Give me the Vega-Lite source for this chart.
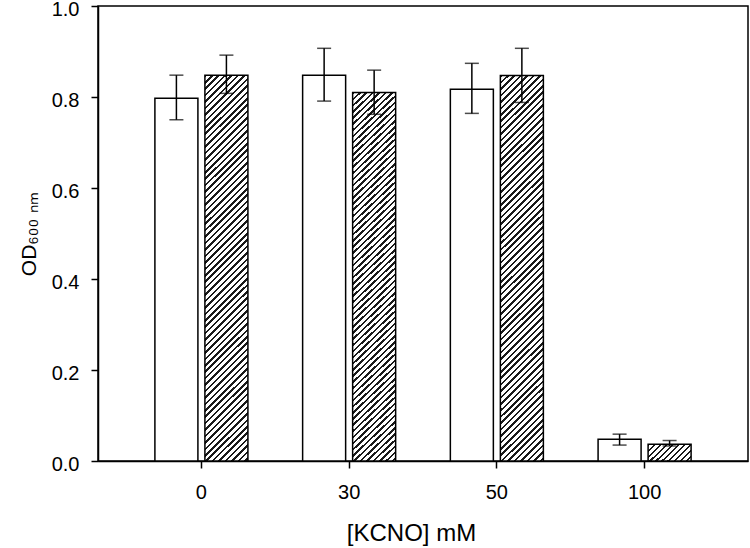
{
  "$schema": "https://vega.github.io/schema/vega-lite/v6.json",
  "width": 650,
  "height": 455,
  "autosize": {"type": "none"},
  "padding": {"left": 98, "top": 6, "right": 2, "bottom": 87},
  "background": "white",
  "config": {
    "font": "Liberation Sans",
    "view": {"stroke": "black", "strokeWidth": 1.5},
    "axis": {"domainColor": "black", "tickColor": "black", "labelColor": "black", "titleColor": "black", "domainWidth": 1.5, "tickWidth": 1.5, "grid": false, "titleFontWeight": "normal"}
  },
  "data": {
    "values": [
      {"conc": "0", "grp": "A", "od": 0.797, "lo": 0.750, "hi": 0.848},
      {"conc": "0", "grp": "B", "od": 0.848, "lo": 0.808, "hi": 0.892},
      {"conc": "30", "grp": "A", "od": 0.848, "lo": 0.791, "hi": 0.907},
      {"conc": "30", "grp": "B", "od": 0.810, "lo": 0.762, "hi": 0.859},
      {"conc": "50", "grp": "A", "od": 0.817, "lo": 0.764, "hi": 0.874},
      {"conc": "50", "grp": "B", "od": 0.847, "lo": 0.788, "hi": 0.907},
      {"conc": "100", "grp": "A", "od": 0.048, "lo": 0.035, "hi": 0.059},
      {"conc": "100", "grp": "B", "od": 0.037, "lo": 0.033, "hi": 0.045}
    ]
  },
  "encoding": {
    "x": {
      "field": "conc", "type": "nominal", "sort": ["0", "30", "50", "100"],
      "scale": {"paddingInner": 0, "paddingOuter": 0.2},
      "axis": {"title": "[KCNO] mM", "labelAngle": 0, "labelFontSize": 20, "titleFontSize": 24, "tickSize": 7, "labelPadding": 14, "titlePadding": 19, "titleX": 313}
    },
    "xOffset": {"field": "grp", "type": "nominal", "scale": {"domain": ["A", "B"], "paddingInner": 0.14, "paddingOuter": 0.547}}
  },
  "layer": [
    {
      "transform": [{"filter": "datum.grp === 'A'"}],
      "mark": {"type": "bar", "fill": "white", "stroke": "black", "strokeWidth": 1.5},
      "encoding": {
        "y": {"field": "od", "type": "quantitative", "scale": {"domain": [0, 1]},
          "axis": {"title": "OD₆₀₀ ₙₘ", "values": [0, 0.2, 0.4, 0.6, 0.8, 1.0], "format": ".1f", "labelFontSize": 20, "labelOffset": 3, "titleFontSize": 21, "tickSize": 7, "labelPadding": 12, "titlePadding": 12}}
      }
    },
    {
      "transform": [{"filter": "datum.grp === 'B' && datum.conc !== '100'"}],
      "mark": {"type": "bar", "stroke": "black", "strokeWidth": 1.5,
        "fill": {"gradient": "linear", "x1": 0, "y1": 0, "x2": 0.12195, "y2": 1.0976, "stops": [
{"offset":0,"color":"#1a1a1a"},{"offset":0.006,"color":"#1a1a1a"},{"offset":0.006,"color":"#fff"},{"offset":0.015,"color":"#fff"},
{"offset":0.015,"color":"#1a1a1a"},{"offset":0.021,"color":"#1a1a1a"},{"offset":0.021,"color":"#fff"},{"offset":0.03,"color":"#fff"},
{"offset":0.03,"color":"#1a1a1a"},{"offset":0.036,"color":"#1a1a1a"},{"offset":0.036,"color":"#fff"},{"offset":0.045,"color":"#fff"},
{"offset":0.045,"color":"#1a1a1a"},{"offset":0.051,"color":"#1a1a1a"},{"offset":0.051,"color":"#fff"},{"offset":0.06,"color":"#fff"},
{"offset":0.06,"color":"#1a1a1a"},{"offset":0.066,"color":"#1a1a1a"},{"offset":0.066,"color":"#fff"},{"offset":0.075,"color":"#fff"},
{"offset":0.075,"color":"#1a1a1a"},{"offset":0.081,"color":"#1a1a1a"},{"offset":0.081,"color":"#fff"},{"offset":0.09,"color":"#fff"},
{"offset":0.09,"color":"#1a1a1a"},{"offset":0.096,"color":"#1a1a1a"},{"offset":0.096,"color":"#fff"},{"offset":0.105,"color":"#fff"},
{"offset":0.105,"color":"#1a1a1a"},{"offset":0.111,"color":"#1a1a1a"},{"offset":0.111,"color":"#fff"},{"offset":0.12,"color":"#fff"},
{"offset":0.12,"color":"#1a1a1a"},{"offset":0.126,"color":"#1a1a1a"},{"offset":0.126,"color":"#fff"},{"offset":0.135,"color":"#fff"},
{"offset":0.135,"color":"#1a1a1a"},{"offset":0.141,"color":"#1a1a1a"},{"offset":0.141,"color":"#fff"},{"offset":0.15,"color":"#fff"},
{"offset":0.15,"color":"#1a1a1a"},{"offset":0.156,"color":"#1a1a1a"},{"offset":0.156,"color":"#fff"},{"offset":0.165,"color":"#fff"},
{"offset":0.165,"color":"#1a1a1a"},{"offset":0.171,"color":"#1a1a1a"},{"offset":0.171,"color":"#fff"},{"offset":0.18,"color":"#fff"},
{"offset":0.18,"color":"#1a1a1a"},{"offset":0.186,"color":"#1a1a1a"},{"offset":0.186,"color":"#fff"},{"offset":0.195,"color":"#fff"},
{"offset":0.195,"color":"#1a1a1a"},{"offset":0.201,"color":"#1a1a1a"},{"offset":0.201,"color":"#fff"},{"offset":0.21,"color":"#fff"},
{"offset":0.21,"color":"#1a1a1a"},{"offset":0.216,"color":"#1a1a1a"},{"offset":0.216,"color":"#fff"},{"offset":0.225,"color":"#fff"},
{"offset":0.225,"color":"#1a1a1a"},{"offset":0.231,"color":"#1a1a1a"},{"offset":0.231,"color":"#fff"},{"offset":0.24,"color":"#fff"},
{"offset":0.24,"color":"#1a1a1a"},{"offset":0.246,"color":"#1a1a1a"},{"offset":0.246,"color":"#fff"},{"offset":0.255,"color":"#fff"},
{"offset":0.255,"color":"#1a1a1a"},{"offset":0.261,"color":"#1a1a1a"},{"offset":0.261,"color":"#fff"},{"offset":0.27,"color":"#fff"},
{"offset":0.27,"color":"#1a1a1a"},{"offset":0.276,"color":"#1a1a1a"},{"offset":0.276,"color":"#fff"},{"offset":0.285,"color":"#fff"},
{"offset":0.285,"color":"#1a1a1a"},{"offset":0.291,"color":"#1a1a1a"},{"offset":0.291,"color":"#fff"},{"offset":0.3,"color":"#fff"},
{"offset":0.3,"color":"#1a1a1a"},{"offset":0.306,"color":"#1a1a1a"},{"offset":0.306,"color":"#fff"},{"offset":0.315,"color":"#fff"},
{"offset":0.315,"color":"#1a1a1a"},{"offset":0.321,"color":"#1a1a1a"},{"offset":0.321,"color":"#fff"},{"offset":0.33,"color":"#fff"},
{"offset":0.33,"color":"#1a1a1a"},{"offset":0.336,"color":"#1a1a1a"},{"offset":0.336,"color":"#fff"},{"offset":0.345,"color":"#fff"},
{"offset":0.345,"color":"#1a1a1a"},{"offset":0.351,"color":"#1a1a1a"},{"offset":0.351,"color":"#fff"},{"offset":0.36,"color":"#fff"},
{"offset":0.36,"color":"#1a1a1a"},{"offset":0.366,"color":"#1a1a1a"},{"offset":0.366,"color":"#fff"},{"offset":0.375,"color":"#fff"},
{"offset":0.375,"color":"#1a1a1a"},{"offset":0.381,"color":"#1a1a1a"},{"offset":0.381,"color":"#fff"},{"offset":0.39,"color":"#fff"},
{"offset":0.39,"color":"#1a1a1a"},{"offset":0.396,"color":"#1a1a1a"},{"offset":0.396,"color":"#fff"},{"offset":0.405,"color":"#fff"},
{"offset":0.405,"color":"#1a1a1a"},{"offset":0.411,"color":"#1a1a1a"},{"offset":0.411,"color":"#fff"},{"offset":0.42,"color":"#fff"},
{"offset":0.42,"color":"#1a1a1a"},{"offset":0.426,"color":"#1a1a1a"},{"offset":0.426,"color":"#fff"},{"offset":0.435,"color":"#fff"},
{"offset":0.435,"color":"#1a1a1a"},{"offset":0.441,"color":"#1a1a1a"},{"offset":0.441,"color":"#fff"},{"offset":0.45,"color":"#fff"},
{"offset":0.45,"color":"#1a1a1a"},{"offset":0.456,"color":"#1a1a1a"},{"offset":0.456,"color":"#fff"},{"offset":0.465,"color":"#fff"},
{"offset":0.465,"color":"#1a1a1a"},{"offset":0.471,"color":"#1a1a1a"},{"offset":0.471,"color":"#fff"},{"offset":0.48,"color":"#fff"},
{"offset":0.48,"color":"#1a1a1a"},{"offset":0.486,"color":"#1a1a1a"},{"offset":0.486,"color":"#fff"},{"offset":0.495,"color":"#fff"},
{"offset":0.495,"color":"#1a1a1a"},{"offset":0.501,"color":"#1a1a1a"},{"offset":0.501,"color":"#fff"},{"offset":0.51,"color":"#fff"},
{"offset":0.51,"color":"#1a1a1a"},{"offset":0.516,"color":"#1a1a1a"},{"offset":0.516,"color":"#fff"},{"offset":0.525,"color":"#fff"},
{"offset":0.525,"color":"#1a1a1a"},{"offset":0.531,"color":"#1a1a1a"},{"offset":0.531,"color":"#fff"},{"offset":0.54,"color":"#fff"},
{"offset":0.54,"color":"#1a1a1a"},{"offset":0.546,"color":"#1a1a1a"},{"offset":0.546,"color":"#fff"},{"offset":0.555,"color":"#fff"},
{"offset":0.555,"color":"#1a1a1a"},{"offset":0.561,"color":"#1a1a1a"},{"offset":0.561,"color":"#fff"},{"offset":0.57,"color":"#fff"},
{"offset":0.57,"color":"#1a1a1a"},{"offset":0.576,"color":"#1a1a1a"},{"offset":0.576,"color":"#fff"},{"offset":0.585,"color":"#fff"},
{"offset":0.585,"color":"#1a1a1a"},{"offset":0.591,"color":"#1a1a1a"},{"offset":0.591,"color":"#fff"},{"offset":0.6,"color":"#fff"},
{"offset":0.6,"color":"#1a1a1a"},{"offset":0.606,"color":"#1a1a1a"},{"offset":0.606,"color":"#fff"},{"offset":0.615,"color":"#fff"},
{"offset":0.615,"color":"#1a1a1a"},{"offset":0.621,"color":"#1a1a1a"},{"offset":0.621,"color":"#fff"},{"offset":0.63,"color":"#fff"},
{"offset":0.63,"color":"#1a1a1a"},{"offset":0.636,"color":"#1a1a1a"},{"offset":0.636,"color":"#fff"},{"offset":0.645,"color":"#fff"},
{"offset":0.645,"color":"#1a1a1a"},{"offset":0.651,"color":"#1a1a1a"},{"offset":0.651,"color":"#fff"},{"offset":0.66,"color":"#fff"},
{"offset":0.66,"color":"#1a1a1a"},{"offset":0.666,"color":"#1a1a1a"},{"offset":0.666,"color":"#fff"},{"offset":0.675,"color":"#fff"},
{"offset":0.675,"color":"#1a1a1a"},{"offset":0.681,"color":"#1a1a1a"},{"offset":0.681,"color":"#fff"},{"offset":0.69,"color":"#fff"},
{"offset":0.69,"color":"#1a1a1a"},{"offset":0.696,"color":"#1a1a1a"},{"offset":0.696,"color":"#fff"},{"offset":0.705,"color":"#fff"},
{"offset":0.705,"color":"#1a1a1a"},{"offset":0.711,"color":"#1a1a1a"},{"offset":0.711,"color":"#fff"},{"offset":0.72,"color":"#fff"},
{"offset":0.72,"color":"#1a1a1a"},{"offset":0.726,"color":"#1a1a1a"},{"offset":0.726,"color":"#fff"},{"offset":0.735,"color":"#fff"},
{"offset":0.735,"color":"#1a1a1a"},{"offset":0.741,"color":"#1a1a1a"},{"offset":0.741,"color":"#fff"},{"offset":0.75,"color":"#fff"},
{"offset":0.75,"color":"#1a1a1a"},{"offset":0.756,"color":"#1a1a1a"},{"offset":0.756,"color":"#fff"},{"offset":0.765,"color":"#fff"},
{"offset":0.765,"color":"#1a1a1a"},{"offset":0.771,"color":"#1a1a1a"},{"offset":0.771,"color":"#fff"},{"offset":0.78,"color":"#fff"},
{"offset":0.78,"color":"#1a1a1a"},{"offset":0.786,"color":"#1a1a1a"},{"offset":0.786,"color":"#fff"},{"offset":0.795,"color":"#fff"},
{"offset":0.795,"color":"#1a1a1a"},{"offset":0.801,"color":"#1a1a1a"},{"offset":0.801,"color":"#fff"},{"offset":0.81,"color":"#fff"},
{"offset":0.81,"color":"#1a1a1a"},{"offset":0.816,"color":"#1a1a1a"},{"offset":0.816,"color":"#fff"},{"offset":0.825,"color":"#fff"},
{"offset":0.825,"color":"#1a1a1a"},{"offset":0.831,"color":"#1a1a1a"},{"offset":0.831,"color":"#fff"},{"offset":0.84,"color":"#fff"},
{"offset":0.84,"color":"#1a1a1a"},{"offset":0.846,"color":"#1a1a1a"},{"offset":0.846,"color":"#fff"},{"offset":0.855,"color":"#fff"},
{"offset":0.855,"color":"#1a1a1a"},{"offset":0.861,"color":"#1a1a1a"},{"offset":0.861,"color":"#fff"},{"offset":0.87,"color":"#fff"},
{"offset":0.87,"color":"#1a1a1a"},{"offset":0.876,"color":"#1a1a1a"},{"offset":0.876,"color":"#fff"},{"offset":0.885,"color":"#fff"},
{"offset":0.885,"color":"#1a1a1a"},{"offset":0.891,"color":"#1a1a1a"},{"offset":0.891,"color":"#fff"},{"offset":0.9,"color":"#fff"},
{"offset":0.9,"color":"#1a1a1a"},{"offset":0.906,"color":"#1a1a1a"},{"offset":0.906,"color":"#fff"},{"offset":0.915,"color":"#fff"},
{"offset":0.915,"color":"#1a1a1a"},{"offset":0.921,"color":"#1a1a1a"},{"offset":0.921,"color":"#fff"},{"offset":0.93,"color":"#fff"},
{"offset":0.93,"color":"#1a1a1a"},{"offset":0.936,"color":"#1a1a1a"},{"offset":0.936,"color":"#fff"},{"offset":0.945,"color":"#fff"},
{"offset":0.945,"color":"#1a1a1a"},{"offset":0.951,"color":"#1a1a1a"},{"offset":0.951,"color":"#fff"},{"offset":0.96,"color":"#fff"},
{"offset":0.96,"color":"#1a1a1a"},{"offset":0.966,"color":"#1a1a1a"},{"offset":0.966,"color":"#fff"},{"offset":0.975,"color":"#fff"},
{"offset":0.975,"color":"#1a1a1a"},{"offset":0.981,"color":"#1a1a1a"},{"offset":0.981,"color":"#fff"},{"offset":0.99,"color":"#fff"},
{"offset":0.99,"color":"#1a1a1a"},{"offset":0.996,"color":"#1a1a1a"},{"offset":0.996,"color":"#fff"},{"offset":1,"color":"#fff"}
        ]}
      },
      "encoding": {"y": {"field": "od", "type": "quantitative"}}
    },
    {
      "transform": [{"filter": "datum.grp === 'B' && datum.conc === '100'"}],
      "mark": {"type": "bar", "stroke": "black", "strokeWidth": 1.5,
        "fill": {"gradient": "linear", "x1": 0, "y1": 0, "x2": 1.2069, "y2": 0.4856, "stops": [
{"offset":0,"color":"#1a1a1a"},{"offset":0.04,"color":"#1a1a1a"},{"offset":0.04,"color":"#fff"},{"offset":0.1,"color":"#fff"},
{"offset":0.1,"color":"#1a1a1a"},{"offset":0.14,"color":"#1a1a1a"},{"offset":0.14,"color":"#fff"},{"offset":0.2,"color":"#fff"},
{"offset":0.2,"color":"#1a1a1a"},{"offset":0.24,"color":"#1a1a1a"},{"offset":0.24,"color":"#fff"},{"offset":0.3,"color":"#fff"},
{"offset":0.3,"color":"#1a1a1a"},{"offset":0.34,"color":"#1a1a1a"},{"offset":0.34,"color":"#fff"},{"offset":0.4,"color":"#fff"},
{"offset":0.4,"color":"#1a1a1a"},{"offset":0.44,"color":"#1a1a1a"},{"offset":0.44,"color":"#fff"},{"offset":0.5,"color":"#fff"},
{"offset":0.5,"color":"#1a1a1a"},{"offset":0.54,"color":"#1a1a1a"},{"offset":0.54,"color":"#fff"},{"offset":0.6,"color":"#fff"},
{"offset":0.6,"color":"#1a1a1a"},{"offset":0.64,"color":"#1a1a1a"},{"offset":0.64,"color":"#fff"},{"offset":0.7,"color":"#fff"},
{"offset":0.7,"color":"#1a1a1a"},{"offset":0.74,"color":"#1a1a1a"},{"offset":0.74,"color":"#fff"},{"offset":0.8,"color":"#fff"},
{"offset":0.8,"color":"#1a1a1a"},{"offset":0.84,"color":"#1a1a1a"},{"offset":0.84,"color":"#fff"},{"offset":0.9,"color":"#fff"},
{"offset":0.9,"color":"#1a1a1a"},{"offset":0.94,"color":"#1a1a1a"},{"offset":0.94,"color":"#fff"},{"offset":1,"color":"#fff"}
        ]}
      },
      "encoding": {"y": {"field": "od", "type": "quantitative"}}
    },
    {
      "mark": {"type": "rule", "color": "black", "strokeWidth": 1.5},
      "encoding": {"y": {"field": "lo", "type": "quantitative"}, "y2": {"field": "hi"}}
    },
    {
      "mark": {"type": "tick", "color": "black", "thickness": 1.5, "size": 14, "orient": "horizontal"},
      "encoding": {"y": {"field": "lo", "type": "quantitative"}}
    },
    {
      "mark": {"type": "tick", "color": "black", "thickness": 1.5, "size": 14, "orient": "horizontal"},
      "encoding": {"y": {"field": "hi", "type": "quantitative"}}
    }
  ]
}
